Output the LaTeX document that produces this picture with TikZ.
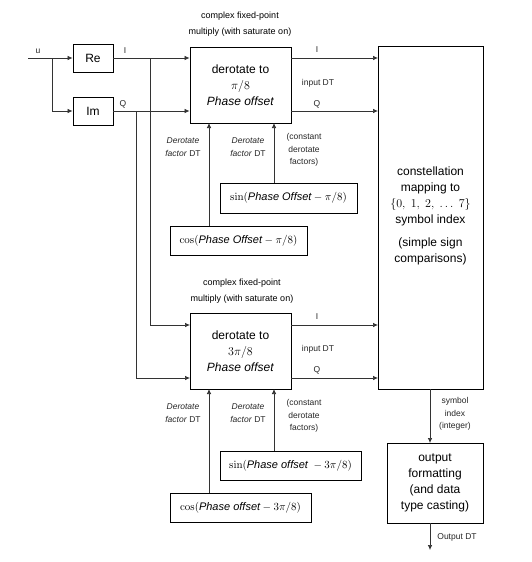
\documentclass[tikz,border=0pt]{standalone}
\usepackage[no-math]{fontspec}
\setmainfont{Liberation Sans}
\usetikzlibrary{arrows.meta}
\tikzset{
  blk/.style={draw, line width=0.9pt, inner sep=0pt, align=center, font=\fontsize{12}{16}\selectfont},
  btext/.style={inner sep=0pt, align=center, font=\fontsize{12}{16}\selectfont},
  mblk/.style={draw, line width=0.9pt, inner sep=0pt, align=center, font=\fontsize{11}{13}\selectfont},
  wire/.style={line width=0.7pt, draw=black!80},
  arr/.style={wire, -{Latex[length=5pt,width=4.5pt]}},
  lbl/.style={font=\fontsize{8.5}{12.5}\selectfont, align=center, inner sep=0pt, text=black!85},
  captext/.style={font=\fontsize{9}{16}\selectfont, align=center, inner sep=0pt}
}
\begin{document}
\begin{tikzpicture}[x=1pt,y=-1pt]
\useasboundingbox (0,0) rectangle (531,562);
% blocks
\node[blk, minimum width=40pt, minimum height=28pt] (Re) at (93,58) {Re};
\node[blk, minimum width=40pt, minimum height=28pt] (Im) at (93,111) {Im};
\node[blk, minimum width=101pt, minimum height=76pt] (D1) at (240.5,85) {derotate to\\$\pi/8$\\\textit{Phase offset}};
\node[blk, minimum width=101pt, minimum height=76pt] (D2) at (240.5,351) {derotate to\\$3\pi/8$\\\textit{Phase offset}};
\node[blk, minimum width=105pt, minimum height=343pt] (C) at (430.5,217.5) {};
\node[btext, anchor=north] (Ct) at (430.5,167) {constellation\\mapping to\\$\{0,\ 1,\ 2,\ \ldots\ 7\}$\\symbol index\\[7pt](simple sign\\comparisons)};
\node[blk, minimum width=96pt, minimum height=80pt] (O) at (435,483) {output\\formatting\\(and data\\type casting)};
\node[mblk, minimum width=137pt, minimum height=30pt] (S1) at (288.5,198) {$\sin(\textit{Phase Offset}-\pi/8)$};
\node[mblk, minimum width=137pt, minimum height=29pt] (K1) at (238.5,240.5) {$\cos(\textit{Phase Offset}-\pi/8)$};
\node[mblk, minimum width=141pt, minimum height=29pt] (S2) at (290.5,465.5) {$\sin(\textit{Phase offset}\ -3\pi/8)$};
\node[mblk, minimum width=141pt, minimum height=29pt] (K2) at (240.5,507.5) {$\cos(\textit{Phase offset}-3\pi/8)$};
% captions
\node[captext] (cap1) at (240,24) {complex fixed-point\\multiply (with saturate on)};
\node[captext] (cap2) at (242,291.5) {complex fixed-point\\multiply (with saturate on)};
% coordinates
\coordinate (uin) at (28,58);
\coordinate (ub) at (52,58);
\coordinate (ib) at (150,58);
\coordinate (qb) at (136,111);
\coordinate (D2I) at (190,325);
\coordinate (D2Q) at (190,378);
\coordinate (D1a) at (209,123);
\coordinate (D1b) at (274,123);
\coordinate (D2a) at (209,389);
\coordinate (D2b) at (274,389);
\coordinate (Cin1) at (378,58);
\coordinate (Cin2) at (378,111);
\coordinate (Cin3) at (378,325);
\coordinate (Cin4) at (378,378);
\coordinate (Cout) at (430,389);
\coordinate (Oin) at (430,443);
\coordinate (Oout) at (430,523);
\coordinate (fin) at (430,550);
% wires
\draw[arr] (uin) -- (Re.west);
\draw[arr] (ub) |- (Im.west);
\draw[arr] (Re.east) -- (D1.west |- Re.east);
\draw[arr] (Im.east) -- (D1.west |- Im.east);
\draw[arr] (ib) |- (D2I);
\draw[arr] (qb) |- (D2Q);
\draw[arr] (D1.east |- Cin1) -- (Cin1);
\draw[arr] (D1.east |- Cin2) -- (Cin2);
\draw[arr] (D2.east |- Cin3) -- (Cin3);
\draw[arr] (D2.east |- Cin4) -- (Cin4);
\draw[arr] (K1.north -| D1a) -- (D1a);
\draw[arr] (S1.north -| D1b) -- (D1b);
\draw[arr] (K2.north -| D2a) -- (D2a);
\draw[arr] (S2.north -| D2b) -- (D2b);
\draw[arr] (Cout) -- (Oin);
\draw[arr] (Oout) -- (fin);
% labels
\node[lbl] (lu) at (38,51) {u};
\node[lbl] (lI0) at (125,51) {I};
\node[lbl] (lQ0) at (123,104) {Q};
\node[lbl] (lI1) at (317,50) {I};
\node[lbl] (ldt1) at (318,83) {input DT};
\node[lbl] (lQ1) at (317,104) {Q};
\node[lbl] (lI2) at (317,317) {I};
\node[lbl] (ldt2) at (318,349) {input DT};
\node[lbl] (lQ2) at (317,370) {Q};
\node[lbl] (df1) at (183,147) {\textit{Derotate}\\\textit{factor} DT};
\node[lbl] (df2) at (248,147) {\textit{Derotate}\\\textit{factor} DT};
\node[lbl] (cd1) at (304,150) {(constant\\derotate\\factors)};
\node[lbl] (df3) at (183,413) {\textit{Derotate}\\\textit{factor} DT};
\node[lbl] (df4) at (248,413) {\textit{Derotate}\\\textit{factor} DT};
\node[lbl] (cd2) at (304,416) {(constant\\derotate\\factors)};
\node[lbl] (si) at (455,414) {symbol\\index\\(integer)};
\node[lbl] (odt) at (457,537) {Output DT};
\end{tikzpicture}
\end{document}
